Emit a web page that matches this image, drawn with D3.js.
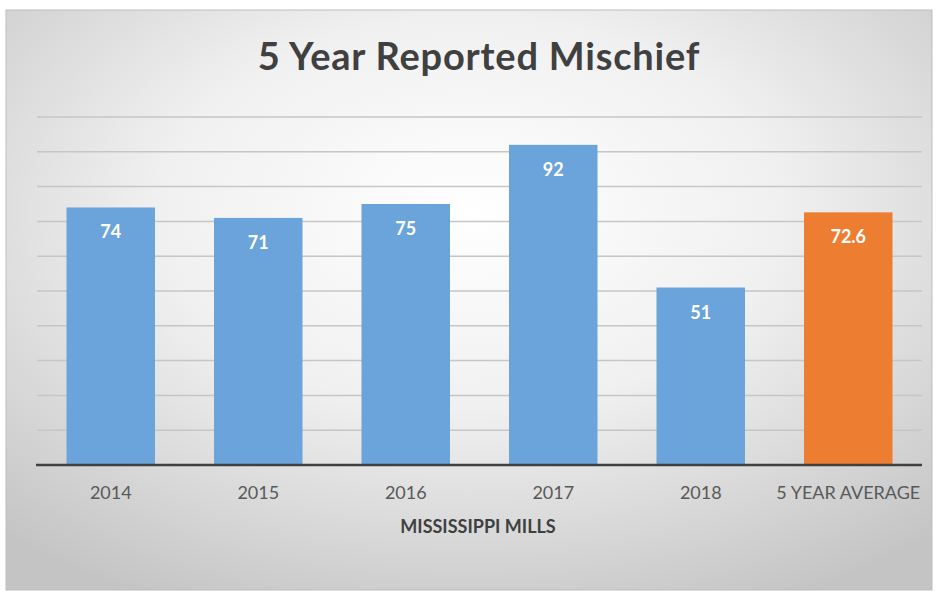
<!DOCTYPE html>
<html><head><meta charset="utf-8">
<script src="https://cdn.jsdelivr.net/npm/d3@7"></script>
<style>body{margin:0;background:#fff;}svg{display:block;}</style>
</head><body>
<svg id="c" width="938" height="591"></svg>
<script>
const categories = ["2014","2015","2016","2017","2018","5 YEAR AVERAGE"];
const values = [74, 71, 75, 92, 51, 72.6];
const barColors = ["#6aa4da","#6aa4da","#6aa4da","#6aa4da","#6aa4da","#ed7d31"];
const yTicks = [0,10,20,30,40,50,60,70,80,90,100];
const title = "5 Year Reported Mischief";
const xTitle = "MISSISSIPPI MILLS";

const svg = d3.select("#c");
const defs = svg.append("defs");
const rg = defs.append("radialGradient").attr("id","bg")
  .attr("cx","50%").attr("cy","35%").attr("r","75%");
rg.append("stop").attr("offset","0%").attr("stop-color","#ffffff");
rg.append("stop").attr("offset","45%").attr("stop-color","#f0f0f0");
rg.append("stop").attr("offset","100%").attr("stop-color","#c4c4c4");

svg.append("rect").attr("x",6).attr("y",10).attr("width",926).attr("height",580)
  .attr("fill","url(#bg)").attr("stroke","#bdbdbd").attr("stroke-width",1);

const m = {left:37, right:922, top:117, bottom:465};
const x = d3.scaleBand().domain(categories).range([m.left,m.right]).paddingInner(0.4).paddingOuter(0.2);
const y = d3.scaleLinear().domain([0,100]).range([m.bottom,m.top]);

svg.append("g").selectAll("line").data(yTicks.slice(1)).join("line")
  .attr("x1",m.left).attr("x2",m.right)
  .attr("y1",d=>y(d)).attr("y2",d=>y(d))
  .attr("stroke","#c6c6c6").attr("stroke-width",1.5);

svg.append("g").selectAll("rect").data(values).join("rect")
  .attr("x",(d,i)=>x(categories[i])).attr("width",x.bandwidth())
  .attr("y",d=>y(d)).attr("height",d=>y(0)-y(d))
  .attr("fill",(d,i)=>barColors[i]);

svg.append("g").selectAll("text").data(values).join("text")
  .attr("x",(d,i)=>x(categories[i])+x.bandwidth()/2)
  .attr("y",d=>y(d)+31)
  .attr("text-anchor","middle")
  .attr("font-family","Lato, 'Open Sans', sans-serif")
  .attr("font-weight","bold").attr("font-size",18).attr("fill","#ffffff")
  .text(d=>d);

const xAxis = svg.append("g").attr("transform",`translate(0,${m.bottom})`)
  .call(d3.axisBottom(x).tickSize(0).tickPadding(21));
xAxis.select(".domain").remove();
xAxis.selectAll("text").attr("font-family","Lato, 'Open Sans', sans-serif")
  .attr("font-size",18).attr("fill","#595959");

svg.append("line").attr("x1",m.left-1).attr("x2",m.right).attr("y1",m.bottom).attr("y2",m.bottom)
  .attr("stroke","#404040").attr("stroke-width",2.5);

svg.append("text").attr("x",479).attr("y",70).attr("text-anchor","middle")
  .attr("font-family","Lato, 'Open Sans', sans-serif").attr("font-weight","bold")
  .attr("font-size",38).attr("letter-spacing",0.8).attr("fill","#404040").text(title);

svg.append("text").attr("x",478).attr("y",533).attr("text-anchor","middle")
  .attr("font-family","Lato, 'Open Sans', sans-serif").attr("font-weight","bold")
  .attr("font-size",18).attr("fill","#404040").text(xTitle);
</script>
</body></html>
